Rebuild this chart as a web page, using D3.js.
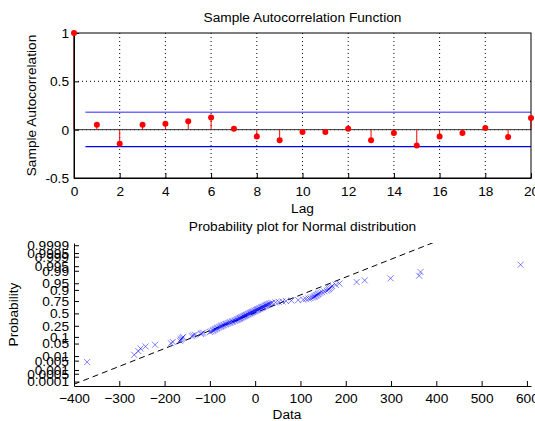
<!DOCTYPE html>
<html>
<head>
<meta charset="utf-8">
<script src="https://cdn.jsdelivr.net/npm/d3@7"></script>
<style>
  body { margin: 0; background: #fff; }
  text { font-family: "Liberation Sans", Arial, sans-serif; font-size: 13.7px; fill: #000; }
</style>
</head>
<body>
<div id="chart"></div>
<script>
// autocorrelation values
const lags = [0, 1, 2, 3, 4, 5, 6, 7, 8, 9, 10, 11, 12, 13, 14, 15, 16, 17, 18, 19, 20];
const acf = [1, 0.052, -0.146, 0.052, 0.062, 0.086, 0.125, 0.01, -0.07, -0.11, -0.025,
  -0.025, 0.01, -0.11, -0.035, -0.163, -0.07, -0.035, 0.017, -0.077, 0.12];
const bounds = [0.18, -0.176];
const lagTicks = [0, 2, 4, 6, 8, 10, 12, 14, 16, 18, 20];
const acfTicks = [-0.5, 0, 0.5, 1];

// sorted sample for the normal probability plot
const sample = [-371, -267, -258, -253, -242, -221, -186, -182, -166, -164, -163, -161, -159,
  -140, -137, -133, -120, -118, -115, -100, -97, -94,
  -92, -90, -88, -86, -84, -82, -79, -77, -75, -73, -71, -69, -66, -64, -62, -59, -57, -55,
  -52, -50, -48, -45, -43, -41, -39, -37, -35, -34,
  -33, -31, -30, -28, -26, -25, -23, -21, -20, -18, -16, -15, -13, -11, -10, -8, -6, -5, -3, -1,
  0, 2, 4, 5, 7, 9, 10, 12, 14, 15, 17, 19, 21, 23, 24, 26, 28, 30, 32, 35,
  38, 45, 52, 60, 68, 80, 95,
  106, 112, 118, 122, 126, 129, 131, 133, 135, 137, 139, 141, 144, 148, 153, 158,
  161, 163, 165, 168, 170, 178, 186, 224, 242, 299, 362, 365, 586];
const dataTicks = [-400, -300, -200, -100, 0, 100, 200, 300, 400, 500, 600];
const probTicks = [0.0001, 0.0005, 0.001, 0.005, 0.01, 0.05, 0.1, 0.25, 0.5, 0.75, 0.9, 0.95, 0.99, 0.995, 0.999, 0.9995, 0.9999];

const width = 535, height = 421;
const fontSize = "13.7px";

// inverse normal cdf (Acklam)
function probit(p) {
  const a = [-3.969683028665376e+01, 2.209460984245205e+02, -2.759285104469687e+02, 1.383577518672690e+02, -3.066479806614716e+01, 2.506628277459239e+00];
  const b = [-5.447609879822406e+01, 1.615858368580409e+02, -1.556989798598866e+02, 6.680131188771720e+01, -1.328068155288572e+01];
  const c = [-7.784894002430293e-03, -3.223964580411365e-01, -2.400758277161838e+00, -2.549732539343734e+00, 4.374664141464968e+00, 2.938163982698783e+00];
  const d = [7.784695709041462e-03, 3.224671290700398e-01, 2.445134137142996e+00, 3.754408661907416e+00];
  const plow = 0.02425;
  let q, r;
  if (p < plow) {
    q = Math.sqrt(-2 * Math.log(p));
    return (((((c[0] * q + c[1]) * q + c[2]) * q + c[3]) * q + c[4]) * q + c[5]) / ((((d[0] * q + d[1]) * q + d[2]) * q + d[3]) * q + 1);
  } else if (p <= 1 - plow) {
    q = p - 0.5; r = q * q;
    return (((((a[0] * r + a[1]) * r + a[2]) * r + a[3]) * r + a[4]) * r + a[5]) * q / (((((b[0] * r + b[1]) * r + b[2]) * r + b[3]) * r + b[4]) * r + 1);
  }
  q = Math.sqrt(-2 * Math.log(1 - p));
  return -(((((c[0] * q + c[1]) * q + c[2]) * q + c[3]) * q + c[4]) * q + c[5]) / ((((d[0] * q + d[1]) * q + d[2]) * q + d[3]) * q + 1);
}

let svg = d3.select("#chart").append("svg")
  .attr("width", width)
  .attr("height", height);

// ---------- top panel: sample autocorrelation ----------
const box1 = { left: 74, right: 531, top: 33, bottom: 178 };
let x1 = d3.scaleLinear().domain([0, 20]).range([box1.left, box1.right]);
let y1 = d3.scaleLinear().domain([-0.5, 1]).range([box1.bottom, box1.top]);

let g1 = svg.append("g");

// dotted grid
g1.selectAll(".vgrid").data(lagTicks.slice(1, -1)).enter().append("line")
  .attr("x1", d => x1(d)).attr("x2", d => x1(d))
  .attr("y1", box1.top).attr("y2", box1.bottom)
  .attr("stroke", "#000").attr("stroke-dasharray", "1,3");
g1.selectAll(".hgrid").data(acfTicks.slice(1, -1)).enter().append("line")
  .attr("x1", box1.left).attr("x2", box1.right)
  .attr("y1", d => y1(d)).attr("y2", d => y1(d))
  .attr("stroke", "#000").attr("stroke-dasharray", "1,3");

// confidence bounds
g1.selectAll(".bound").data(bounds).enter().append("line")
  .attr("x1", x1(0.5)).attr("x2", box1.right)
  .attr("y1", d => y1(d)).attr("y2", d => y1(d))
  .attr("stroke", (d, i) => i == 0 ? "#6f6fff" : "#0000ff")
  .attr("stroke-width", (d, i) => i == 0 ? 1.6 : 1.2);

// zero line
g1.append("line")
  .attr("x1", x1(0)).attr("x2", x1(20))
  .attr("y1", y1(0)).attr("y2", y1(0))
  .attr("stroke", "#333");

// stems
g1.selectAll(".stem").data(lags).enter().append("line")
  .attr("x1", d => x1(d)).attr("x2", d => x1(d))
  .attr("y1", y1(0)).attr("y2", (d, i) => y1(acf[i]))
  .attr("stroke", "#ff0000");

// axes
g1.append("g")
  .attr("transform", `translate(0,${box1.bottom})`)
  .call(d3.axisBottom(x1).tickValues(lagTicks).tickFormat(d3.format("d")).tickSizeInner(-5).tickSizeOuter(0).tickPadding(8));
g1.append("g")
  .attr("transform", `translate(${box1.left},0)`)
  .call(d3.axisLeft(y1).tickValues(acfTicks).tickFormat(d => d).tickSizeInner(-5).tickSizeOuter(0).tickPadding(5));
g1.append("rect")
  .attr("x", box1.left).attr("y", box1.top)
  .attr("width", box1.right - box1.left).attr("height", box1.bottom - box1.top)
  .attr("fill", "none").attr("stroke", "#000");

// markers
g1.selectAll(".dot").data(lags).enter().append("circle")
  .attr("cx", d => x1(d))
  .attr("cy", (d, i) => y1(acf[i]))
  .attr("r", 3)
  .attr("fill", "#ff0000");

g1.append("text").attr("x", (box1.left + box1.right) / 2).attr("y", 21.5)
  .attr("text-anchor", "middle").text("Sample Autocorrelation Function");
g1.append("text").attr("x", (box1.left + box1.right) / 2).attr("y", 212.5)
  .attr("text-anchor", "middle").text("Lag");
g1.append("text").attr("transform", `translate(36,${(box1.top + box1.bottom) / 2}) rotate(-90)`)
  .attr("text-anchor", "middle").text("Sample Autocorrelation");

// ---------- bottom panel: normal probability plot ----------
const box2 = { left: 74, right: 531, top: 243, bottom: 386 };
let x2 = d3.scaleLinear().domain([-400, 609]).range([box2.left, box2.right]);
let y2 = d3.scaleLinear().domain([-3.96, 3.84]).range([box2.bottom, box2.top]);

let g2 = svg.append("g");

g2.append("clipPath").attr("id", "clip2")
  .append("rect")
  .attr("x", box2.left).attr("y", box2.top)
  .attr("width", box2.right - box2.left).attr("height", box2.bottom - box2.top);

// reference line through the quartiles
const n = sample.length;
const q1 = d3.quantile(sample, 0.25), q3 = d3.quantile(sample, 0.75);
const z1 = probit(0.25), z3 = probit(0.75);
const slope = (z3 - z1) / (q3 - q1);
const refX = [-400, 609];
g2.append("line")
  .attr("clip-path", "url(#clip2)")
  .attr("x1", x2(refX[0])).attr("y1", y2(z1 + slope * (refX[0] - q1)))
  .attr("x2", x2(refX[1])).attr("y2", y2(z1 + slope * (refX[1] - q1)))
  .attr("stroke", "#000").attr("stroke-dasharray", "6,4");

// crosses
const s = 3;
g2.selectAll(".pt").data(sample).enter().append("path")
  .attr("transform", (d, i) => `translate(${x2(d)},${y2(probit((i + 0.5) / n))})`)
  .attr("d", `M${-s},${-s}L${s},${s}M${-s},${s}L${s},${-s}`)
  .attr("stroke", "#0000ff")
  .attr("stroke-opacity", 0.5)
  .attr("fill", "none");

g2.append("g")
  .attr("transform", `translate(0,${box2.bottom})`)
  .call(d3.axisBottom(x2).tickValues(dataTicks).tickFormat(d3.format("d")).tickSizeInner(-5).tickSizeOuter(0).tickPadding(7));
let yAxis2 = d3.axisLeft(y2).tickValues(probTicks.map(probit))
  .tickFormat((d, i) => String(probTicks[i])).tickSizeInner(-5).tickSizeOuter(0).tickPadding(5);
g2.append("g")
  .attr("transform", `translate(${box2.left},0)`)
  .call(yAxis2);

g2.append("text").attr("x", (box2.left + box2.right) / 2).attr("y", 230.5)
  .attr("text-anchor", "middle").text("Probability plot for Normal distribution");
g2.append("text").attr("x", 287).attr("y", 419)
  .attr("text-anchor", "middle").text("Data");
g2.append("text").attr("transform", `translate(18,${(box2.top + box2.bottom) / 2}) rotate(-90)`)
  .attr("text-anchor", "middle").text("Probability");

svg.selectAll(".tick text").style("font-family", "'Liberation Sans', Arial, sans-serif").style("font-size", fontSize).attr("fill", "#000");
svg.selectAll(".domain").attr("stroke", "#000");
svg.selectAll(".tick line").attr("stroke", "#000");
</script>
</body>
</html>
